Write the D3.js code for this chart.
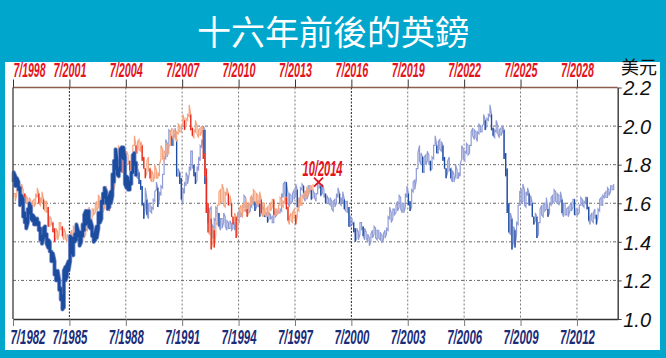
<!DOCTYPE html>
<html><head><meta charset="utf-8">
<script src="https://cdn.jsdelivr.net/npm/d3@7"></script>
<style>body{margin:0;background:#fff}svg{display:block}</style>
</head><body>
<svg id="c" width="666" height="358"></svg>
<script>
// ---------- DATA ----------
const titleText = "十六年前後的英鎊";
const unitText = "美元";
const startYear = 1982, startMonth = 7;          // first month of the monthly series
const shiftYears = 16;                             // top axis runs 16 years after the bottom axis
const lateFrom = "1998-07";                        // start of the series drawn against the top axis
const thickUntil = "1989-01";                      // end of the heavy blue stretch
// monthly lows / highs, GBP in USD, 7/1982 .. 6/2014
const gbpLow = [
 1.71,1.69,1.69,1.67,1.59,1.60,
 1.53,1.50,1.47,1.50,1.55,1.52,1.51,1.49,1.49,1.49,1.46,1.41,
 1.39,1.42,1.43,1.39,1.37,1.35,1.30,1.30,1.23,1.20,1.20,1.15,
 1.10,1.05,1.06,1.20,1.22,1.25,1.30,1.36,1.33,1.40,1.41,1.43,
 1.38,1.40,1.43,1.46,1.49,1.50,1.48,1.47,1.43,1.40,1.41,1.42,
 1.47,1.50,1.52,1.60,1.63,1.60,1.57,1.58,1.60,1.64,1.71,1.78,
 1.75,1.74,1.77,1.85,1.83,1.70,1.68,1.67,1.67,1.70,1.76,1.80,
 1.74,1.73,1.70,1.67,1.59,1.52,1.58,1.54,1.52,1.56,1.55,1.57,
 1.61,1.67,1.58,1.62,1.64,1.68,1.75,1.83,1.84,1.90,1.93,1.90,
 1.90,1.94,1.74,1.74,1.70,1.62,1.60,1.65,1.69,1.70,1.75,1.77,
 1.78,1.74,1.70,1.72,1.77,1.82,1.89,1.90,1.70,1.55,1.50,1.51,
 1.50,1.42,1.42,1.51,1.53,1.48,1.46,1.47,1.50,1.48,1.46,1.47,
 1.47,1.46,1.47,1.46,1.49,1.51,1.53,1.53,1.54,1.58,1.56,1.55,
 1.55,1.56,1.58,1.59,1.56,1.58,1.58,1.53,1.55,1.57,1.53,1.53,
 1.50,1.52,1.52,1.50,1.50,1.53,1.54,1.55,1.55,1.56,1.63,1.65,
 1.60,1.60,1.58,1.60,1.61,1.62,1.64,1.58,1.58,1.60,1.67,1.63,
 1.61,1.62,1.64,1.66,1.62,1.63,1.63,1.61,1.65,1.68,1.64,1.65,
 1.63,1.60,1.60,1.60,1.59,1.57,1.56,1.58,1.60,1.63,1.60,1.59,
 1.60,1.57,1.56,1.55,1.48,1.48,1.49,1.45,1.40,1.42,1.41,1.44,
 1.46,1.43,1.41,1.42,1.40,1.38,1.40,1.42,1.44,1.42,1.41,1.42,
 1.41,1.40,1.41,1.42,1.44,1.46,1.52,1.50,1.52,1.54,1.55,1.56,
 1.58,1.57,1.55,1.55,1.58,1.63,1.59,1.56,1.58,1.66,1.67,1.72,
 1.78,1.82,1.80,1.76,1.76,1.80,1.82,1.80,1.77,1.78,1.83,1.90,
 1.86,1.86,1.88,1.87,1.82,1.78,1.73,1.76,1.77,1.73,1.71,1.71,
 1.74,1.73,1.73,1.74,1.83,1.83,1.82,1.86,1.85,1.86,1.90,1.95,
 1.93,1.94,1.92,1.96,1.97,1.97,2.01,1.98,2.00,2.03,2.05,1.98,
 1.95,1.94,1.97,1.96,1.94,1.95,1.97,1.83,1.74,1.55,1.45,1.44,
 1.36,1.40,1.37,1.44,1.49,1.59,1.60,1.61,1.59,1.58,1.64,1.59,
 1.59,1.53,1.49,1.51,1.42,1.44,1.50,1.54,1.53,1.56,1.57,1.53,
 1.55,1.59,1.60,1.61,1.61,1.60,1.59,1.61,1.55,1.53,1.54,1.54,
 1.53,1.56,1.56,1.58,1.54,1.54,1.54,1.55,1.59,1.59,1.58,1.60,
 1.57,1.51,1.49,1.51,1.50,1.52,1.49,1.53,1.56,1.59,1.59,1.63,
 1.63,1.63,1.64,1.66,1.67,1.67
];
const gbpHigh = [
 1.76,1.74,1.73,1.71,1.68,1.64,
 1.62,1.55,1.52,1.57,1.60,1.58,1.54,1.53,1.52,1.52,1.50,1.47,
 1.43,1.47,1.48,1.44,1.41,1.40,1.35,1.34,1.30,1.25,1.25,1.20,
 1.16,1.12,1.25,1.27,1.28,1.30,1.43,1.42,1.42,1.44,1.49,1.46,
 1.45,1.45,1.49,1.54,1.56,1.56,1.56,1.51,1.48,1.44,1.45,1.48,
 1.55,1.55,1.61,1.65,1.68,1.66,1.63,1.64,1.66,1.75,1.82,1.88,
 1.82,1.78,1.88,1.89,1.89,1.84,1.74,1.73,1.71,1.76,1.85,1.86,
 1.81,1.78,1.76,1.72,1.69,1.60,1.68,1.62,1.60,1.60,1.58,1.62,
 1.66,1.71,1.68,1.66,1.69,1.75,1.84,1.93,1.91,1.98,1.97,1.95,
 1.96,1.99,1.93,1.78,1.76,1.73,1.68,1.71,1.76,1.74,1.79,1.87,
 1.87,1.80,1.76,1.79,1.84,1.90,1.93,2.00,1.98,1.73,1.58,1.57,
 1.58,1.48,1.52,1.58,1.57,1.55,1.52,1.52,1.55,1.53,1.51,1.50,
 1.51,1.49,1.50,1.50,1.52,1.55,1.56,1.55,1.58,1.64,1.63,1.58,
 1.60,1.59,1.63,1.62,1.61,1.60,1.61,1.60,1.59,1.59,1.58,1.55,
 1.55,1.55,1.54,1.53,1.55,1.56,1.56,1.56,1.57,1.65,1.70,1.71,
 1.71,1.65,1.65,1.64,1.65,1.67,1.70,1.67,1.63,1.68,1.70,1.69,
 1.66,1.66,1.69,1.69,1.67,1.67,1.65,1.65,1.70,1.72,1.69,1.70,
 1.67,1.65,1.64,1.62,1.63,1.61,1.61,1.62,1.65,1.68,1.65,1.63,
 1.66,1.62,1.61,1.61,1.58,1.53,1.52,1.50,1.47,1.47,1.45,1.50,
 1.50,1.48,1.47,1.45,1.44,1.42,1.44,1.46,1.48,1.47,1.46,1.46,
 1.45,1.43,1.44,1.46,1.47,1.53,1.58,1.55,1.57,1.57,1.59,1.61,
 1.64,1.63,1.60,1.60,1.65,1.69,1.65,1.61,1.67,1.71,1.72,1.78,
 1.86,1.90,1.86,1.84,1.84,1.85,1.87,1.85,1.82,1.84,1.90,1.95,
 1.90,1.92,1.93,1.92,1.90,1.84,1.78,1.82,1.84,1.78,1.77,1.75,
 1.80,1.77,1.76,1.80,1.90,1.88,1.87,1.91,1.90,1.90,1.97,1.99,
 1.98,1.97,1.97,2.01,2.00,2.00,2.06,2.03,2.04,2.06,2.11,2.06,
 1.99,1.98,2.03,2.00,1.98,1.99,2.00,1.98,1.86,1.78,1.60,1.55,
 1.52,1.48,1.46,1.50,1.59,1.66,1.67,1.70,1.67,1.66,1.68,1.65,
 1.64,1.60,1.53,1.55,1.53,1.50,1.57,1.59,1.59,1.60,1.63,1.57,
 1.60,1.63,1.64,1.67,1.66,1.65,1.64,1.66,1.62,1.60,1.60,1.57,
 1.58,1.59,1.60,1.62,1.62,1.57,1.57,1.59,1.63,1.62,1.61,1.63,
 1.63,1.58,1.53,1.55,1.55,1.57,1.54,1.57,1.62,1.63,1.64,1.65,
 1.66,1.68,1.67,1.69,1.69,1.70
];
const bottomTicks = ["7/1982","7/1985","7/1988","7/1991","7/1994","7/1997","7/2000","7/2003","7/2006","7/2009","7/2012"];
const topTicks = ["7/1998","7/2001","7/2004","7/2007","7/2010","7/2013","7/2016","7/2019","7/2022","7/2025","7/2028"];
const yTicks = [1.0,1.2,1.4,1.6,1.8,2.0,2.2];
const markerLabel = "10/2014", markerDate = "2014-10", markerValue = 1.71;

// ---------- CHART ----------
const svg = d3.select("#c");
const W = 666, H = 358;
const L = 13, R = 617.7, T = 87.5, B = 319;
const ym = s => { const [yy,m] = s.split("-").map(Number); return new Date(yy, m-1, 1); };
const parseTick = s => { const [m,yy] = s.split("/").map(Number); return new Date(yy, m-1, 1); };

const d0 = new Date(1982,6,1), d1 = new Date(2014,8,1);
const xB = d3.scaleTime().domain([d0, d1]).range([L, R]);
const xT = d3.scaleTime().domain([d3.timeYear.offset(d0, shiftYears), d3.timeYear.offset(d1, shiftYears)]).range([L, R]);
const y = d3.scaleLinear().domain([1.0, 2.2]).range([B, T]);

const data = gbpLow.map((lo,i) => ({date: new Date(startYear, startMonth-1+i, 15), lo, hi: gbpHigh[i]}));

// condense a text element horizontally to a target width
function condense(sel, width, tx, ty) {
  sel.each(function() {
    const n = this.getComputedTextLength() || width;
    d3.select(this).attr("transform", `translate(${tx},${ty}) scale(${width/n},1)`);
  });
}

// backgrounds
svg.append("rect").attr("width", W).attr("height", H).attr("fill", "#00a6cc");
svg.append("rect").attr("x", 5).attr("y", 62).attr("width", 655).attr("height", 288).attr("fill", "#fff");
svg.append("text").attr("x", 333).attr("y", 45).attr("text-anchor","middle")
  .attr("font-family","'Noto Sans CJK TC','Noto Sans CJK SC',sans-serif").attr("font-size",34)
  .attr("fill","#fff").text(titleText);

// grid
const hg = svg.append("g");
yTicks.filter(v => v > 1.0 && v < 2.2).forEach(v => {
  hg.append("line").attr("x1", L).attr("x2", R).attr("y1", y(v)).attr("y2", y(v))
    .attr("stroke","#6a6a6a").attr("stroke-width",1).attr("stroke-dasharray","3,2,1,2");
});
const bDates = bottomTicks.map(parseTick), tDates = topTicks.map(parseTick);
bDates.slice(1).forEach((d,i) => {
  const strong = (bottomTicks[i+1] === "7/1985" || bottomTicks[i+1] === "7/2000");
  hg.append("line").attr("x1", xB(d)).attr("x2", xB(d)).attr("y1", T).attr("y2", B)
    .attr("stroke", strong ? "#222" : "#7a7a7a").attr("stroke-width", 1)
    .attr("stroke-dasharray", strong ? "2,1.5" : "2,2");
});

// series
function zig(items, x) {
  const pts = []; let last = null;
  items.forEach(d => {
    const a = y(d.lo), b = y(d.hi), xx = x(d.date);
    if (last === null || Math.abs(last - a) <= Math.abs(last - b)) { pts.push([xx,a],[xx,b]); last = b; }
    else { pts.push([xx,b],[xx,a]); last = a; }
  });
  return d3.line()(pts);
}
const lateStart = ym(lateFrom), thickEnd = ym(thickUntil);
const late = data.filter(d => d.date >= lateStart);
const thick = data.filter(d => d.date <= d3.timeDay.offset(thickEnd, 20));
const accent = arr => arr.filter((d,i) => i > 0 && d.lo < arr[i-1].lo - 0.025 && d.hi <= arr[i-1].hi);

svg.append("path").attr("d", zig(data, xB)).attr("fill","none").attr("stroke","#909cd6").attr("stroke-width",1.2);
svg.selectAll(".ab").data(accent(data).filter(d => d.date > thickEnd)).enter().append("line")
  .attr("x1", d => xB(d.date)).attr("x2", d => xB(d.date)).attr("y1", d => y(d.lo)).attr("y2", d => y(d.hi))
  .attr("stroke","#1d4ea2").attr("stroke-width",1.3);
svg.append("path").attr("d", zig(late, xT)).attr("fill","none").attr("stroke","#f5a47f").attr("stroke-width",1.2);
svg.selectAll(".ar").data(accent(late)).enter().append("line")
  .attr("x1", d => xT(d.date)).attr("x2", d => xT(d.date)).attr("y1", d => y(d.lo)).attr("y2", d => y(d.hi))
  .attr("stroke","#e8281e").attr("stroke-width",1.3);
svg.append("path").attr("d", zig(thick, xB)).attr("fill","none").attr("stroke","#7f92cd").attr("stroke-width",4.2).attr("stroke-linejoin","round");
svg.append("path").attr("d", zig(thick, xB)).attr("fill","none").attr("stroke","#1c4c9e").attr("stroke-width",2.6).attr("stroke-linejoin","round");

// frame lines
svg.append("line").attr("x1", L).attr("x2", R).attr("y1", T).attr("y2", T).attr("stroke","#8c5c4c").attr("stroke-width",1.5);
svg.append("line").attr("x1", L).attr("x2", L).attr("y1", T).attr("y2", B).attr("stroke","#555").attr("stroke-width",1.5);

// axes
const narrow = "'Liberation Sans Narrow','Arial Narrow','Liberation Sans',sans-serif";
const gb = svg.append("g").attr("transform", `translate(0,${B})`)
  .call(d3.axisBottom(xB).tickValues(bDates).tickFormat((d,i) => bottomTicks[i]).tickSize(7).tickSizeOuter(0));
gb.select(".domain").attr("stroke","#333").attr("stroke-width",1.5);
gb.selectAll(".tick line").attr("stroke","#777");
gb.selectAll(".tick text").attr("x", 0).attr("y", 0).attr("dy", 0)
  .attr("font-family", narrow).attr("font-style","italic").attr("font-weight","bold").attr("font-size",20)
  .attr("fill","#1b2d78")
  .each(function(d,i){
    const t = d3.select(this);
    if (i===0) { t.attr("text-anchor","start"); condense(t, 35, -3, 24.5); }
    else condense(t, 35, 0, 24.5);
  });

const gt = svg.append("g").attr("transform", `translate(0,${T})`)
  .call(d3.axisTop(xT).tickValues(tDates).tickFormat((d,i) => topTicks[i]).tickSize(8).tickSizeOuter(0));
gt.select(".domain").remove();
gt.selectAll(".tick line").attr("stroke","#333");
gt.selectAll(".tick text").attr("x", 0).attr("y", 0).attr("dy", 0)
  .attr("font-family", narrow).attr("font-style","italic").attr("font-weight","bold").attr("font-size",20)
  .attr("fill","#e3141c")
  .each(function(d,i){
    const t = d3.select(this);
    if (i===0) { t.attr("text-anchor","start"); condense(t, 32, 0, -10.5); }
    else condense(t, 33, 0, -10.5);
  });

const gr = svg.append("g").attr("transform", `translate(${R},0)`)
  .call(d3.axisRight(y).tickValues(yTicks).tickFormat(d3.format(".1f")).tickSize(4).tickSizeOuter(0));
gr.select(".domain").attr("stroke","#444").attr("stroke-width",1.5);
gr.selectAll(".tick line").attr("stroke","#444");
gr.selectAll(".tick text").attr("x", 5.5).attr("dy","0.36em")
  .attr("font-family","'Liberation Sans',Arial,sans-serif").attr("font-style","italic").attr("font-size",20).attr("fill","#111");

svg.append("text").attr("x", 621).attr("y", 74).attr("font-family","'Noto Sans CJK TC','Noto Sans CJK SC',sans-serif")
  .attr("font-size",18).attr("fill","#111").text(unitText);

// marker
const mx = xT(ym(markerDate)), my = y(markerValue), s = 4.5;
svg.append("path").attr("d", `M${mx-s},${my-s}L${mx+s},${my+s}M${mx-s},${my+s}L${mx+s},${my-s}`)
  .attr("stroke","#e3141c").attr("stroke-width",1.8).attr("fill","none");
const ml = svg.append("text").attr("text-anchor","middle")
  .attr("font-family", narrow).attr("font-style","italic").attr("font-weight","bold").attr("font-size",22)
  .attr("fill","#e3141c").text(markerLabel);
condense(ml, 40, mx + 4, my - 6.5);
</script>
</body></html>
